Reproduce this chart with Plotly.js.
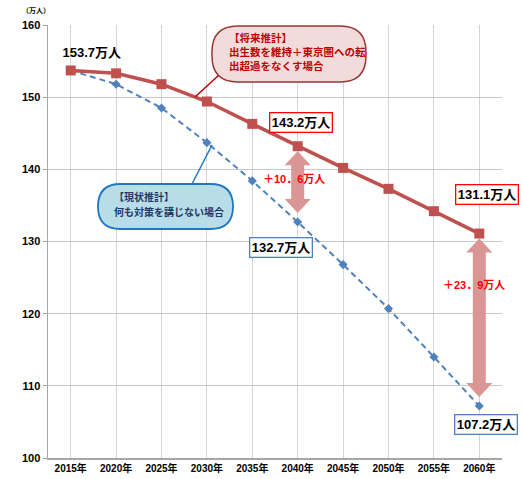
<!DOCTYPE html>
<html>
<head>
<meta charset="utf-8">
<script src="https://cdn.plot.ly/plotly-3.0.1.min.js"></script>
<style>html,body{margin:0;padding:0;background:#fff;}#chart{width:523px;height:479px;}</style>
</head>
<body>
<div id="chart"></div>
<script>
// ---- data ----
const years = [2015, 2020, 2025, 2030, 2035, 2040, 2045, 2050, 2055, 2060];
const yearLabels = ['2015年','2020年','2025年','2030年','2035年','2040年','2045年','2050年','2055年','2060年'];
const futureVals = [153.7, 153.3, 151.8, 149.4, 146.3, 143.2, 140.2, 137.3, 134.2, 131.1];
const currentVals = [153.7, 151.8, 148.5, 143.7, 138.4, 132.7, 126.8, 120.7, 114.0, 107.2];
const yTicks = [100, 110, 120, 130, 140, 150, 160];
const diffIdx = [5, 9];
const diffLabels = ['＋10．6万人', '＋23．9万人'];
const futureTitle = ['【将来推計】', '出生数を維持＋東京圏への転', '出超過をなくす場合'];
const currentTitle = ['【現状推計】', '何も対策を講じない場合'];

// ---- geometry helpers ----
const W = 523, H = 479, ML = 48, MR = 21, MT = 25, MB = 21;
const PW = W - ML - MR, PH = H - MT - MB;
const xr = [2012.5, 2062.5], yr = [100, 160];
const kx = (xr[1] - xr[0]) / PW, ky = (yr[1] - yr[0]) / PH;
function PX(px) { return (px - ML) / PW; }
function PY(py) { return (H - MB - py) / PH; }
function P(px, py) { return PX(px).toFixed(4) + ',' + PY(py).toFixed(4); }
function roundRect(x0, y0, x1, y1, r) {
  return 'M' + P(x0 + r, y0) + ' L' + P(x1 - r, y0) + ' Q' + P(x1, y0) + ' ' + P(x1, y0 + r) +
    ' L' + P(x1, y1 - r) + ' Q' + P(x1, y1) + ' ' + P(x1 - r, y1) +
    ' L' + P(x0 + r, y1) + ' Q' + P(x0, y1) + ' ' + P(x0, y1 - r) +
    ' L' + P(x0, y0 + r) + ' Q' + P(x0, y0) + ' ' + P(x0 + r, y0) + ' Z';
}
function dblArrow(i) {
  const x = years[i];
  const yT = futureVals[i] - 5 * ky, yB = currentVals[i] + 9 * ky;
  const hw = 13 * kx, sw = 6.5 * kx, hl = 14 * ky;
  const pts = [[x, yT], [x + hw, yT - hl], [x + sw, yT - hl], [x + sw, yB + hl], [x + hw, yB + hl], [x, yB],
    [x - hw, yB + hl], [x - sw, yB + hl], [x - sw, yT - hl], [x - hw, yT - hl]];
  return 'M' + pts.map(p => p[0].toFixed(4) + ',' + p[1].toFixed(4)).join(' L') + ' Z';
}

const FONT = 'Liberation Sans, Arial, Noto Sans CJK JP, sans-serif';
const JFONT = 'Noto Sans CJK JP, sans-serif';

const traces = [
  {
    x: years, y: currentVals, type: 'scatter', mode: 'lines+markers',
    line: {color: '#4f81bd', width: 2, dash: '6px,4px'},
    marker: {symbol: 'diamond', size: 7, color: '#4f81bd'},
    hoverinfo: 'skip'
  },
  {
    x: years, y: futureVals, type: 'scatter', mode: 'lines+markers',
    line: {color: '#c0504d', width: 3.5},
    marker: {symbol: 'square', size: 10, color: '#c0504d'},
    hoverinfo: 'skip'
  }
];

const shapes = [];
diffIdx.forEach(i => shapes.push({type: 'path', xref: 'x', yref: 'y', path: dblArrow(i),
  fillcolor: '#d99694', line: {width: 0}, layer: 'above'}));
// connectors
shapes.push({type: 'line', xref: 'paper', yref: 'paper',
  x0: PX(219), y0: PY(75), x1: PX(195), y1: PY(97),
  line: {color: '#c00000', width: 1.5}});
shapes.push({type: 'line', xref: 'paper', yref: 'paper',
  x0: PX(192), y0: PY(184), x1: PX(212), y1: PY(145),
  line: {color: '#1f77c0', width: 1.5}});
// callout boxes
shapes.push({type: 'path', xref: 'paper', yref: 'paper', path: roundRect(212, 26, 366, 82, 26),
  fillcolor: '#f2dcdb', line: {color: '#953735', width: 1.5}});
shapes.push({type: 'path', xref: 'paper', yref: 'paper', path: roundRect(98, 184, 233, 229, 22.5),
  fillcolor: '#b7dde8', line: {color: '#1f77c0', width: 1.8}});

const annotations = [];
function valLabel(x, y, txt, xs, ys, border) {
  annotations.push({x: x, y: y, xref: 'x', yref: 'y', text: '<b>' + txt + '</b>', showarrow: false,
    xshift: xs, yshift: ys, font: {family: FONT, size: 13, color: '#000'},
    bgcolor: border ? '#ffffff' : 'rgba(0,0,0,0)', bordercolor: border || 'rgba(0,0,0,0)',
    borderwidth: border ? 1.3 : 0, borderpad: 1.5});
}
valLabel(years[0], futureVals[0], futureVals[0].toFixed(1) + '万人', 21, 18, null);
valLabel(years[5], futureVals[5], futureVals[5].toFixed(1) + '万人', 3, 24, '#ff0000');
valLabel(years[5], currentVals[5], currentVals[5].toFixed(1) + '万人', -17, -25, '#4f81bd');
valLabel(years[9], futureVals[9], futureVals[9].toFixed(1) + '万人', 8, 39, '#ff0000');
valLabel(years[9], currentVals[9], currentVals[9].toFixed(1) + '万人', 7, -18, '#4f81bd');

const diffShift = [[-4, 5], [-5, 35]];
diffIdx.forEach((i, k) => annotations.push({
  x: years[i], y: (futureVals[i] + currentVals[i]) / 2, xref: 'x', yref: 'y',
  text: '<b>' + diffLabels[k] + '</b>', showarrow: false,
  xshift: diffShift[k][0], yshift: diffShift[k][1],
  font: {family: FONT, size: 11, color: '#ff0000'}
}));

const futureLineY = [37, 51, 65];
futureTitle.forEach((t, k) => annotations.push({x: PX(228), y: PY(futureLineY[k]), xref: 'paper', yref: 'paper',
  xanchor: 'left', yanchor: 'middle', align: 'left', showarrow: false, borderpad: 0,
  text: '<b>' + t + '</b>', font: {family: JFONT, size: 10.5, color: '#c00000'}}));
const currentLineY = [196, 211];
currentTitle.forEach((t, k) => annotations.push({x: PX(113), y: PY(currentLineY[k]), xref: 'paper', yref: 'paper',
  xanchor: 'left', yanchor: 'middle', align: 'left', showarrow: false, borderpad: 0,
  text: '<b>' + t + '</b>', font: {family: JFONT, size: 10, color: '#1f3864'}}));
annotations.push({x: PX(21), y: PY(10), xref: 'paper', yref: 'paper', yanchor: 'middle',
  showarrow: false, borderpad: 0, text: '<b>（万人）</b>', font: {family: JFONT, size: 7, color: '#000'}});

const layout = {
  width: W, height: H,
  margin: {l: ML, r: MR, t: MT, b: MB, pad: 0},
  paper_bgcolor: '#ffffff', plot_bgcolor: '#ffffff',
  showlegend: false,
  xaxis: {
    range: xr, tickmode: 'array', tickvals: years, ticktext: yearLabels.map(s => '<b>' + s + '</b>'),
    showgrid: true, gridcolor: '#d4d4d4', gridwidth: 1, zeroline: false,
    showline: true, linecolor: '#a6a6a6', linewidth: 1.5, ticks: '',
    tickfont: {family: FONT, size: 10, color: '#000'}, fixedrange: true
  },
  yaxis: {
    range: yr, tickmode: 'array', tickvals: yTicks, ticktext: yTicks.map(v => '<b>' + v + '</b>'),
    showgrid: true, gridcolor: '#c8c8c8', gridwidth: 1, zeroline: false,
    showline: true, linecolor: '#a6a6a6', linewidth: 1.5, ticks: 'outside', ticklen: 4, tickcolor: '#a6a6a6',
    tickfont: {family: FONT, size: 11, color: '#000'}, fixedrange: true
  },
  shapes: shapes,
  annotations: annotations
};

Plotly.newPlot('chart', traces, layout, {displayModeBar: false, staticPlot: true});
</script>
</body>
</html>
